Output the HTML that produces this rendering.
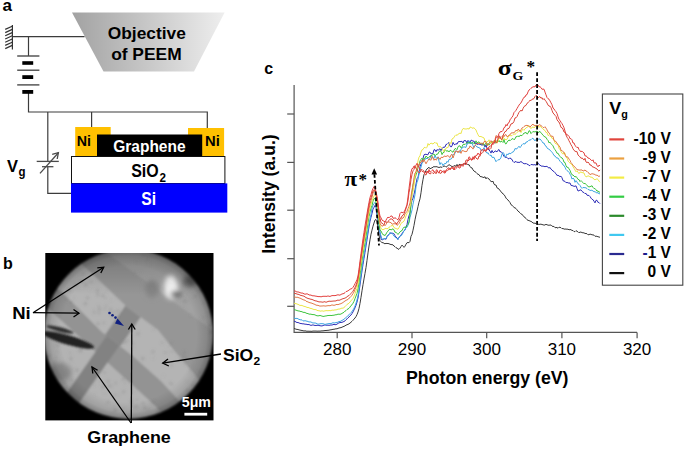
<!DOCTYPE html>
<html><head><meta charset="utf-8"><style>
html,body{margin:0;padding:0;background:#fff;width:685px;height:449px;overflow:hidden}
svg{display:block}
</style></head><body>
<svg width="685" height="449" viewBox="0 0 685 449">
<text x="2.6" y="11" font-family="Liberation Sans, sans-serif" font-size="17" font-weight="bold" fill="#000" text-anchor="start" >a</text>
<g stroke="#333" stroke-width="1.2" fill="none">
<line x1="12.4" y1="25" x2="12.4" y2="49.5"/>
<line x1="5.2" y1="29.4" x2="12.2" y2="26.2"/>
<line x1="5.2" y1="32.6" x2="12.2" y2="29.4"/>
<line x1="5.2" y1="35.8" x2="12.2" y2="32.6"/>
<line x1="5.2" y1="39.0" x2="12.2" y2="35.8"/>
<line x1="5.2" y1="42.2" x2="12.2" y2="39.0"/>
<line x1="5.2" y1="45.4" x2="12.2" y2="42.2"/>
<line x1="5.2" y1="48.6" x2="12.2" y2="45.4"/>
</g>
<g stroke="#3c3c3c" stroke-width="1.2" fill="none">
<polyline points="12.4,36.6 84.6,36.6"/>
<polyline points="28.5,36.6 28.5,56"/>
<polyline points="28.5,93 28.5,112 207.3,112 207.3,128"/>
<polyline points="91.6,112 91.6,127"/>
<polyline points="47.8,112 47.8,161.4"/>
<polyline points="47.8,166.7 47.8,193.4 71,193.4"/>
</g>
<g stroke="#4a4a4a" stroke-width="1.4">
<line x1="17.2" y1="56" x2="39.4" y2="56"/>
<line x1="17.2" y1="70.2" x2="39.4" y2="70.2"/>
<line x1="17.2" y1="84.9" x2="39.4" y2="84.9"/>
</g>
<rect x="22.3" y="61.2" width="10.9" height="3.6" fill="#000"/>
<rect x="22.3" y="75.2" width="10.9" height="3.8" fill="#000"/>
<rect x="22.3" y="90" width="10.9" height="3.8" fill="#000"/>
<g stroke="#4a4a4a" stroke-width="1.3" fill="none">
<line x1="36.7" y1="161.4" x2="58.8" y2="161.4"/>
<line x1="42" y1="166.7" x2="53.4" y2="166.7"/>
<line x1="40" y1="173.4" x2="58.4" y2="152.7"/>
<polyline points="52.2,154.3 58.4,152.7 57.2,159"/>
</g>
<text x="7" y="172" font-family="Liberation Sans, sans-serif" font-size="17" font-weight="bold" fill="#000" text-anchor="start" textLength="11" lengthAdjust="spacingAndGlyphs" >V</text>
<text x="18.5" y="175.5" font-family="Liberation Sans, sans-serif" font-size="12.5" font-weight="bold" fill="#000" text-anchor="start" textLength="7" lengthAdjust="spacingAndGlyphs" >g</text>
<defs><linearGradient id="tg" x1="0" y1="0" x2="1" y2="0"><stop offset="0" stop-color="#a2a2a2"/><stop offset="1" stop-color="#eeeeee"/></linearGradient></defs>
<polygon points="72,12.4 224.6,12.4 194,71.5 103.5,71.5" fill="url(#tg)"/>
<text x="146.8" y="38.5" font-family="Liberation Sans, sans-serif" font-size="17" font-weight="bold" fill="#000" text-anchor="middle" textLength="78" lengthAdjust="spacingAndGlyphs" >Objective</text>
<text x="146.4" y="59.6" font-family="Liberation Sans, sans-serif" font-size="17" font-weight="bold" fill="#000" text-anchor="middle" textLength="70.5" lengthAdjust="spacingAndGlyphs" >of PEEM</text>
<rect x="75.2" y="127" width="35.5" height="29" fill="#FFC000"/>
<rect x="188" y="128" width="36.1" height="28" fill="#FFC000"/>
<rect x="97" y="134.5" width="105.2" height="21.5" fill="#000"/>
<rect x="71.5" y="156.5" width="153.4" height="27" fill="#fff" stroke="#111" stroke-width="1"/>
<rect x="71" y="183.4" width="156.3" height="29.2" fill="#0000FF"/>
<text x="76.8" y="145.5" font-family="Liberation Sans, sans-serif" font-size="15.5" font-weight="bold" fill="#000" text-anchor="start" textLength="14.2" lengthAdjust="spacingAndGlyphs" >Ni</text>
<text x="205" y="145.5" font-family="Liberation Sans, sans-serif" font-size="15.5" font-weight="bold" fill="#000" text-anchor="start" textLength="14.8" lengthAdjust="spacingAndGlyphs" >Ni</text>
<text x="113.2" y="151.5" font-family="Liberation Sans, sans-serif" font-size="16" font-weight="bold" fill="#fff" text-anchor="start" textLength="72.4" lengthAdjust="spacingAndGlyphs" >Graphene</text>
<text x="131.2" y="177.2" font-family="Liberation Sans, sans-serif" font-size="18" font-weight="bold" fill="#000" text-anchor="start" textLength="27.5" lengthAdjust="spacingAndGlyphs" >SiO</text>
<text x="159.5" y="182" font-family="Liberation Sans, sans-serif" font-size="12" font-weight="bold" fill="#000" text-anchor="start" textLength="6.5" lengthAdjust="spacingAndGlyphs" >2</text>
<text x="141.2" y="205.3" font-family="Liberation Sans, sans-serif" font-size="18.5" font-weight="bold" fill="#fff" text-anchor="start" textLength="14.8" lengthAdjust="spacingAndGlyphs" >Si</text>
<text x="2.9" y="269" font-family="Liberation Sans, sans-serif" font-size="16" font-weight="bold" fill="#000" text-anchor="start" >b</text>
<rect x="45.3" y="253" width="168.2" height="167.4" fill="#000"/>
<defs>
<mask id="cc" maskUnits="userSpaceOnUse" x="30" y="230" width="200" height="210"><ellipse cx="128.5" cy="334" rx="84.7" ry="85.0" fill="#fff" filter="url(#bl1)"/></mask>
<clipPath id="sq"><rect x="45.3" y="253" width="168.2" height="167.4"/></clipPath>
<radialGradient id="vig" gradientUnits="userSpaceOnUse" cx="128.5" cy="334" r="85"><stop offset="0.8" stop-color="#000" stop-opacity="0"/><stop offset="0.92" stop-color="#000" stop-opacity="0.1"/><stop offset="0.98" stop-color="#000" stop-opacity="0.25"/><stop offset="1" stop-color="#000" stop-opacity="0.35"/></radialGradient>
<linearGradient id="topd" x1="0" y1="0" x2="0" y2="1"><stop offset="0.1" stop-color="#000" stop-opacity="0.22"/><stop offset="1" stop-color="#000" stop-opacity="0"/></linearGradient>
<filter id="bl" x="-10%" y="-10%" width="120%" height="120%"><feGaussianBlur stdDeviation="1.0"/></filter>
<filter id="bl3" x="-50%" y="-50%" width="200%" height="200%"><feGaussianBlur stdDeviation="2.5"/></filter>
<filter id="bl1" x="-50%" y="-50%" width="200%" height="200%"><feGaussianBlur stdDeviation="1"/></filter>
<filter id="bl2" x="-50%" y="-50%" width="200%" height="200%"><feGaussianBlur stdDeviation="1.5"/></filter>
</defs>
<g clip-path="url(#sq)"><g mask="url(#cc)"><rect x="40" y="245" width="180" height="180" fill="#a2a2a2"/>
<defs>
<clipPath id="cL1"><polygon points="240.0,440.0 195.5,375.2 175.2,351.8 158.1,330.0 127.3,307.3 91.8,273.6 50.0,236.0 20.0,258.0 65.6,296.0 101.1,331.6 133.1,356.5 161.2,381.5 215.0,440.0" fill="#000" /></clipPath>
<clipPath id="cLow"><polygon points="215.0,440.0 161.2,381.5 133.1,356.5 101.1,331.6 65.6,296.0 20.0,258.0 0.0,300.0 0.0,460.0 260.0,460.0" fill="#000" /></clipPath>
</defs>
<g filter="url(#bl)">
<polygon points="70.0,226.0 121.7,263.7 148.5,283.3 175.0,302.9 230.0,343.0 240.0,440.0 195.5,375.2 175.2,351.8 158.1,330.0 127.3,307.3 91.8,273.6 50.0,236.0" fill="#969696" />
<polygon points="240.0,440.0 195.5,375.2 175.2,351.8 158.1,330.0 127.3,307.3 91.8,273.6 50.0,236.0 20.0,258.0 65.6,296.0 101.1,331.6 133.1,356.5 161.2,381.5 215.0,440.0" fill="#b4b4b4" />
<polygon points="215.0,440.0 161.2,381.5 133.1,356.5 101.1,331.6 65.6,296.0 20.0,258.0 20.0,283.0 101.4,357.0 155.4,406.0 190.0,450.0" fill="#939393" />
<polygon points="190.0,450.0 155.4,406.0 101.4,357.0 20.0,283.0 0.0,300.0 0.0,460.0 260.0,460.0" fill="#b3b3b3" />
<g clip-path="url(#cL1)"><polygon points="159.1,257.5 173.9,269.5 81.9,400.9 67.1,388.9" fill="#888888" opacity="1"/></g>
<g clip-path="url(#cLow)"><polygon points="114.6,324.4 127.1,334.5 46.6,449.5 34.1,439.4" fill="#828282" opacity="1"/></g>
</g>
<g filter="url(#bl2)"><circle cx="149.9" cy="264.8" r="0.5" fill="#707070" opacity="0.45"/><circle cx="185.0" cy="296.8" r="0.7" fill="#707070" opacity="0.45"/><circle cx="211.3" cy="331.6" r="1.3" fill="#707070" opacity="0.45"/><circle cx="71.0" cy="358.8" r="1.3" fill="#707070" opacity="0.45"/><circle cx="171.9" cy="351.5" r="0.8" fill="#707070" opacity="0.45"/><circle cx="51.1" cy="396.8" r="0.9" fill="#707070" opacity="0.45"/><circle cx="111.6" cy="386.1" r="0.9" fill="#707070" opacity="0.45"/><circle cx="201.3" cy="399.0" r="0.6" fill="#707070" opacity="0.45"/><circle cx="68.6" cy="289.8" r="1.4" fill="#707070" opacity="0.45"/><circle cx="110.1" cy="311.9" r="1.0" fill="#707070" opacity="0.45"/><circle cx="143.0" cy="403.2" r="1.1" fill="#707070" opacity="0.45"/><circle cx="200.2" cy="395.3" r="1.4" fill="#707070" opacity="0.45"/><circle cx="164.5" cy="288.8" r="1.2" fill="#707070" opacity="0.45"/><circle cx="56.5" cy="394.9" r="1.4" fill="#707070" opacity="0.45"/><circle cx="60.7" cy="386.1" r="0.9" fill="#707070" opacity="0.45"/><circle cx="71.0" cy="302.5" r="1.2" fill="#707070" opacity="0.45"/><circle cx="190.9" cy="261.3" r="1.1" fill="#707070" opacity="0.45"/><circle cx="53.5" cy="372.5" r="0.8" fill="#707070" opacity="0.45"/><circle cx="129.9" cy="418.8" r="0.8" fill="#707070" opacity="0.45"/><circle cx="58.8" cy="353.0" r="0.5" fill="#707070" opacity="0.45"/><circle cx="53.0" cy="397.2" r="0.8" fill="#707070" opacity="0.45"/><circle cx="205.1" cy="401.9" r="0.8" fill="#707070" opacity="0.45"/><circle cx="152.9" cy="352.3" r="1.0" fill="#707070" opacity="0.45"/><circle cx="148.9" cy="409.2" r="1.0" fill="#707070" opacity="0.45"/><circle cx="85.4" cy="303.7" r="1.4" fill="#707070" opacity="0.45"/><circle cx="132.5" cy="344.5" r="0.5" fill="#707070" opacity="0.45"/><circle cx="49.3" cy="355.6" r="1.1" fill="#707070" opacity="0.45"/><circle cx="56.0" cy="357.5" r="0.9" fill="#707070" opacity="0.45"/><circle cx="163.4" cy="375.8" r="0.5" fill="#707070" opacity="0.45"/><circle cx="56.1" cy="365.5" r="1.4" fill="#707070" opacity="0.45"/><circle cx="106.4" cy="305.6" r="0.8" fill="#707070" opacity="0.45"/><circle cx="108.6" cy="381.4" r="0.5" fill="#707070" opacity="0.45"/><circle cx="97.5" cy="290.7" r="1.2" fill="#707070" opacity="0.45"/><circle cx="85.6" cy="284.9" r="0.9" fill="#707070" opacity="0.45"/><circle cx="99.4" cy="309.1" r="1.3" fill="#707070" opacity="0.45"/><circle cx="118.8" cy="395.2" r="0.7" fill="#707070" opacity="0.45"/><circle cx="83.4" cy="274.0" r="1.0" fill="#707070" opacity="0.45"/><circle cx="185.2" cy="284.3" r="0.8" fill="#707070" opacity="0.45"/><circle cx="180.0" cy="359.9" r="1.2" fill="#707070" opacity="0.45"/><circle cx="94.5" cy="385.0" r="0.7" fill="#707070" opacity="0.45"/><circle cx="103.5" cy="322.8" r="0.9" fill="#707070" opacity="0.45"/><circle cx="114.0" cy="405.9" r="0.6" fill="#707070" opacity="0.45"/><circle cx="46.8" cy="409.6" r="1.3" fill="#707070" opacity="0.45"/><circle cx="209.8" cy="325.7" r="1.4" fill="#707070" opacity="0.45"/><circle cx="199.9" cy="290.6" r="1.2" fill="#707070" opacity="0.45"/><circle cx="184.9" cy="363.4" r="1.0" fill="#707070" opacity="0.45"/><circle cx="94.0" cy="310.3" r="0.7" fill="#707070" opacity="0.45"/><circle cx="57.3" cy="351.1" r="0.8" fill="#707070" opacity="0.45"/><circle cx="180.5" cy="261.4" r="1.3" fill="#707070" opacity="0.45"/><circle cx="194.8" cy="402.4" r="1.0" fill="#707070" opacity="0.45"/><circle cx="48.2" cy="377.0" r="0.7" fill="#707070" opacity="0.45"/><circle cx="102.7" cy="295.7" r="1.3" fill="#707070" opacity="0.45"/><circle cx="125.2" cy="383.1" r="0.8" fill="#707070" opacity="0.45"/><circle cx="78.8" cy="342.2" r="1.2" fill="#707070" opacity="0.45"/><circle cx="199.0" cy="387.0" r="1.2" fill="#707070" opacity="0.45"/><circle cx="47.2" cy="357.7" r="1.3" fill="#707070" opacity="0.45"/><circle cx="55.1" cy="274.9" r="0.6" fill="#707070" opacity="0.45"/><circle cx="187.8" cy="268.2" r="1.0" fill="#707070" opacity="0.45"/><circle cx="98.4" cy="305.9" r="0.8" fill="#707070" opacity="0.45"/><circle cx="153.4" cy="350.8" r="0.8" fill="#707070" opacity="0.45"/><circle cx="77.7" cy="308.2" r="0.6" fill="#707070" opacity="0.45"/><circle cx="109.1" cy="386.2" r="1.1" fill="#707070" opacity="0.45"/><circle cx="117.6" cy="315.4" r="0.9" fill="#707070" opacity="0.45"/><circle cx="108.1" cy="402.1" r="1.2" fill="#707070" opacity="0.45"/><circle cx="66.4" cy="388.2" r="1.1" fill="#707070" opacity="0.45"/><circle cx="193.3" cy="384.8" r="1.1" fill="#707070" opacity="0.45"/><circle cx="167.8" cy="347.0" r="0.6" fill="#707070" opacity="0.45"/><circle cx="143.6" cy="254.8" r="0.6" fill="#707070" opacity="0.45"/><circle cx="61.2" cy="270.4" r="1.3" fill="#707070" opacity="0.45"/><circle cx="185.7" cy="274.0" r="1.3" fill="#707070" opacity="0.45"/><circle cx="86.2" cy="283.7" r="0.7" fill="#707070" opacity="0.45"/><circle cx="111.4" cy="314.6" r="0.9" fill="#707070" opacity="0.45"/><circle cx="104.1" cy="323.0" r="0.6" fill="#707070" opacity="0.45"/><circle cx="129.1" cy="414.6" r="0.9" fill="#707070" opacity="0.45"/><circle cx="170.1" cy="280.5" r="1.1" fill="#707070" opacity="0.45"/><circle cx="171.5" cy="365.2" r="1.0" fill="#707070" opacity="0.45"/><circle cx="195.0" cy="278.6" r="0.6" fill="#707070" opacity="0.45"/><circle cx="165.3" cy="284.7" r="0.7" fill="#707070" opacity="0.45"/><circle cx="79.1" cy="350.6" r="0.8" fill="#707070" opacity="0.45"/><circle cx="204.3" cy="302.8" r="1.1" fill="#707070" opacity="0.45"/><circle cx="114.6" cy="394.9" r="1.0" fill="#707070" opacity="0.45"/><circle cx="90.4" cy="289.9" r="0.5" fill="#707070" opacity="0.45"/><circle cx="99.5" cy="381.7" r="0.6" fill="#707070" opacity="0.45"/><circle cx="210.5" cy="333.1" r="1.0" fill="#707070" opacity="0.45"/><circle cx="123.7" cy="391.7" r="1.2" fill="#707070" opacity="0.45"/><circle cx="138.5" cy="333.4" r="1.1" fill="#707070" opacity="0.45"/><circle cx="158.1" cy="412.2" r="1.3" fill="#707070" opacity="0.45"/><circle cx="86.2" cy="285.3" r="0.7" fill="#707070" opacity="0.45"/><circle cx="77.1" cy="370.3" r="1.3" fill="#707070" opacity="0.45"/><circle cx="195.4" cy="296.1" r="1.3" fill="#707070" opacity="0.45"/><circle cx="98.0" cy="323.8" r="1.2" fill="#707070" opacity="0.45"/><circle cx="60.3" cy="269.3" r="1.3" fill="#707070" opacity="0.45"/><circle cx="94.4" cy="312.8" r="1.0" fill="#707070" opacity="0.45"/><circle cx="158.1" cy="255.1" r="0.8" fill="#707070" opacity="0.45"/><circle cx="80.9" cy="350.5" r="1.4" fill="#707070" opacity="0.45"/><circle cx="65.8" cy="299.3" r="1.1" fill="#707070" opacity="0.45"/><circle cx="196.9" cy="270.0" r="1.3" fill="#707070" opacity="0.45"/><circle cx="108.1" cy="381.4" r="1.2" fill="#707070" opacity="0.45"/><circle cx="135.0" cy="272.7" r="0.9" fill="#707070" opacity="0.45"/><circle cx="104.5" cy="372.5" r="1.1" fill="#707070" opacity="0.45"/><circle cx="153.2" cy="358.1" r="0.7" fill="#707070" opacity="0.45"/><circle cx="193.7" cy="362.1" r="0.6" fill="#707070" opacity="0.45"/><circle cx="200.7" cy="277.3" r="0.8" fill="#707070" opacity="0.45"/><circle cx="165.6" cy="352.6" r="1.0" fill="#707070" opacity="0.45"/><circle cx="153.5" cy="329.5" r="0.8" fill="#707070" opacity="0.45"/><circle cx="75.3" cy="265.3" r="1.1" fill="#707070" opacity="0.45"/><circle cx="171.2" cy="343.6" r="1.2" fill="#707070" opacity="0.45"/><circle cx="105.6" cy="297.9" r="0.8" fill="#707070" opacity="0.45"/><circle cx="190.8" cy="260.9" r="1.0" fill="#707070" opacity="0.45"/><circle cx="104.8" cy="308.9" r="0.9" fill="#707070" opacity="0.45"/><circle cx="104.6" cy="393.7" r="0.6" fill="#707070" opacity="0.45"/><circle cx="64.7" cy="382.5" r="1.2" fill="#707070" opacity="0.45"/><circle cx="76.7" cy="285.2" r="0.9" fill="#707070" opacity="0.45"/><circle cx="170.3" cy="351.7" r="0.6" fill="#707070" opacity="0.45"/><circle cx="133.6" cy="347.8" r="0.7" fill="#707070" opacity="0.45"/><circle cx="51.0" cy="386.5" r="1.3" fill="#707070" opacity="0.45"/><circle cx="203.6" cy="317.2" r="1.0" fill="#707070" opacity="0.45"/><circle cx="142.8" cy="358.6" r="1.4" fill="#707070" opacity="0.45"/><circle cx="46.4" cy="381.1" r="1.1" fill="#707070" opacity="0.45"/><circle cx="127.7" cy="340.4" r="0.9" fill="#707070" opacity="0.45"/><circle cx="78.1" cy="341.4" r="0.5" fill="#707070" opacity="0.45"/><circle cx="205.2" cy="401.2" r="0.6" fill="#707070" opacity="0.45"/><circle cx="177.5" cy="356.8" r="0.5" fill="#707070" opacity="0.45"/><circle cx="105.7" cy="292.5" r="0.6" fill="#707070" opacity="0.45"/><circle cx="135.5" cy="407.4" r="0.8" fill="#707070" opacity="0.45"/><circle cx="190.5" cy="368.6" r="0.6" fill="#707070" opacity="0.45"/><circle cx="199.9" cy="372.1" r="1.2" fill="#707070" opacity="0.45"/><circle cx="103.0" cy="387.1" r="1.3" fill="#707070" opacity="0.45"/><circle cx="64.1" cy="261.0" r="0.6" fill="#707070" opacity="0.45"/><circle cx="79.3" cy="280.5" r="0.9" fill="#707070" opacity="0.45"/><circle cx="162.1" cy="342.7" r="0.9" fill="#707070" opacity="0.45"/><circle cx="123.1" cy="378.9" r="0.9" fill="#707070" opacity="0.45"/><circle cx="176.0" cy="277.7" r="0.9" fill="#707070" opacity="0.45"/><circle cx="78.4" cy="288.5" r="0.7" fill="#707070" opacity="0.45"/><circle cx="50.6" cy="272.2" r="0.7" fill="#707070" opacity="0.45"/><circle cx="127.4" cy="263.9" r="0.5" fill="#707070" opacity="0.45"/><circle cx="112.9" cy="319.4" r="0.5" fill="#707070" opacity="0.45"/><circle cx="206.3" cy="290.1" r="0.6" fill="#707070" opacity="0.45"/><circle cx="66.6" cy="262.6" r="1.2" fill="#707070" opacity="0.45"/><circle cx="123.3" cy="407.9" r="0.8" fill="#707070" opacity="0.45"/><circle cx="87.5" cy="297.9" r="1.2" fill="#707070" opacity="0.45"/><circle cx="61.6" cy="366.6" r="1.4" fill="#707070" opacity="0.45"/><circle cx="144.3" cy="254.6" r="0.5" fill="#707070" opacity="0.45"/><circle cx="61.0" cy="282.1" r="0.5" fill="#707070" opacity="0.45"/><circle cx="55.0" cy="362.0" r="1.3" fill="#707070" opacity="0.45"/><circle cx="79.3" cy="414.7" r="0.9" fill="#707070" opacity="0.45"/><circle cx="202.1" cy="259.6" r="0.8" fill="#707070" opacity="0.45"/><circle cx="146.8" cy="410.2" r="0.6" fill="#707070" opacity="0.45"/><circle cx="94.7" cy="394.2" r="0.6" fill="#707070" opacity="0.45"/><circle cx="110.7" cy="309.1" r="1.1" fill="#707070" opacity="0.45"/><circle cx="200.1" cy="282.8" r="1.2" fill="#707070" opacity="0.45"/><circle cx="137.9" cy="406.4" r="0.8" fill="#707070" opacity="0.45"/><circle cx="90.7" cy="282.0" r="1.1" fill="#707070" opacity="0.45"/><circle cx="71.5" cy="371.3" r="0.5" fill="#707070" opacity="0.45"/><circle cx="123.5" cy="379.1" r="1.1" fill="#707070" opacity="0.45"/><circle cx="62.1" cy="293.1" r="1.3" fill="#707070" opacity="0.45"/><circle cx="194.9" cy="374.9" r="0.8" fill="#707070" opacity="0.45"/><circle cx="112.3" cy="411.7" r="0.6" fill="#707070" opacity="0.45"/><circle cx="140.4" cy="272.2" r="0.6" fill="#707070" opacity="0.45"/><circle cx="54.1" cy="279.2" r="1.1" fill="#707070" opacity="0.45"/><circle cx="143.2" cy="255.9" r="0.7" fill="#707070" opacity="0.45"/><circle cx="206.6" cy="290.3" r="1.0" fill="#707070" opacity="0.45"/><circle cx="115.7" cy="382.9" r="1.0" fill="#707070" opacity="0.45"/><circle cx="77.2" cy="283.3" r="0.6" fill="#707070" opacity="0.45"/><circle cx="183.0" cy="272.6" r="0.5" fill="#707070" opacity="0.45"/><circle cx="206.4" cy="286.9" r="1.3" fill="#707070" opacity="0.45"/><circle cx="60.2" cy="330.8" r="0.7" fill="#707070" opacity="0.45"/><circle cx="183.7" cy="355.5" r="1.1" fill="#707070" opacity="0.45"/><circle cx="184.7" cy="352.1" r="1.2" fill="#707070" opacity="0.45"/><circle cx="80.2" cy="343.0" r="0.9" fill="#707070" opacity="0.45"/><circle cx="57.9" cy="345.2" r="1.2" fill="#707070" opacity="0.45"/><circle cx="104.2" cy="418.3" r="0.8" fill="#707070" opacity="0.45"/><circle cx="82.2" cy="281.3" r="1.3" fill="#707070" opacity="0.45"/><circle cx="115.5" cy="410.4" r="1.3" fill="#707070" opacity="0.45"/><circle cx="211.6" cy="405.9" r="0.8" fill="#707070" opacity="0.45"/><circle cx="201.1" cy="284.5" r="0.6" fill="#707070" opacity="0.45"/><circle cx="52.7" cy="377.0" r="0.7" fill="#707070" opacity="0.45"/><circle cx="117.8" cy="310.9" r="1.2" fill="#707070" opacity="0.45"/><circle cx="71.4" cy="379.9" r="1.1" fill="#707070" opacity="0.45"/><circle cx="191.4" cy="315.5" r="0.6" fill="#707070" opacity="0.45"/><circle cx="133.3" cy="343.4" r="0.8" fill="#707070" opacity="0.45"/><circle cx="187.5" cy="301.1" r="0.9" fill="#707070" opacity="0.45"/><circle cx="193.2" cy="387.2" r="0.8" fill="#707070" opacity="0.45"/><circle cx="47.7" cy="275.7" r="1.0" fill="#707070" opacity="0.45"/><circle cx="54.3" cy="287.6" r="1.2" fill="#707070" opacity="0.45"/><circle cx="123.3" cy="415.6" r="1.2" fill="#707070" opacity="0.45"/><circle cx="208.6" cy="259.8" r="0.7" fill="#707070" opacity="0.45"/><circle cx="48.2" cy="325.3" r="0.8" fill="#707070" opacity="0.45"/><circle cx="54.5" cy="344.1" r="0.6" fill="#707070" opacity="0.45"/><circle cx="97.7" cy="294.8" r="1.2" fill="#707070" opacity="0.45"/><circle cx="115.4" cy="297.0" r="0.5" fill="#707070" opacity="0.45"/><circle cx="180.2" cy="294.8" r="0.6" fill="#707070" opacity="0.45"/><circle cx="171.9" cy="384.3" r="1.0" fill="#707070" opacity="0.45"/><circle cx="92.4" cy="281.8" r="0.5" fill="#707070" opacity="0.45"/><circle cx="152.8" cy="402.0" r="1.3" fill="#707070" opacity="0.45"/><circle cx="200.2" cy="388.3" r="1.0" fill="#707070" opacity="0.45"/><circle cx="74.4" cy="284.2" r="1.1" fill="#707070" opacity="0.45"/><circle cx="113.8" cy="312.1" r="0.9" fill="#707070" opacity="0.45"/><circle cx="205.2" cy="279.6" r="0.8" fill="#707070" opacity="0.45"/><circle cx="187.3" cy="390.6" r="1.3" fill="#707070" opacity="0.45"/><circle cx="147.7" cy="259.0" r="1.0" fill="#707070" opacity="0.45"/><circle cx="137.3" cy="334.5" r="0.8" fill="#707070" opacity="0.45"/><circle cx="63.0" cy="364.3" r="0.8" fill="#707070" opacity="0.45"/><circle cx="131.5" cy="401.8" r="1.4" fill="#707070" opacity="0.45"/><circle cx="198.8" cy="283.9" r="0.8" fill="#707070" opacity="0.45"/><circle cx="183.5" cy="306.2" r="0.7" fill="#707070" opacity="0.45"/><circle cx="203.7" cy="409.7" r="0.8" fill="#707070" opacity="0.45"/><circle cx="111.2" cy="300.5" r="0.6" fill="#707070" opacity="0.45"/><circle cx="87.5" cy="415.7" r="0.6" fill="#707070" opacity="0.45"/><circle cx="84.1" cy="287.0" r="0.6" fill="#707070" opacity="0.45"/><circle cx="185.2" cy="358.1" r="1.2" fill="#707070" opacity="0.45"/><circle cx="205.6" cy="265.4" r="0.7" fill="#707070" opacity="0.45"/><circle cx="136.7" cy="261.8" r="0.7" fill="#707070" opacity="0.45"/><circle cx="205.0" cy="277.8" r="1.3" fill="#707070" opacity="0.45"/><circle cx="75.5" cy="417.8" r="1.1" fill="#707070" opacity="0.45"/><circle cx="55.1" cy="379.3" r="0.7" fill="#707070" opacity="0.45"/><circle cx="191.2" cy="262.1" r="1.4" fill="#707070" opacity="0.45"/><circle cx="209.9" cy="300.3" r="0.6" fill="#707070" opacity="0.45"/><circle cx="70.1" cy="274.9" r="0.8" fill="#707070" opacity="0.45"/><circle cx="197.9" cy="266.7" r="0.7" fill="#707070" opacity="0.45"/><circle cx="208.7" cy="294.6" r="0.8" fill="#707070" opacity="0.45"/><circle cx="170.2" cy="383.0" r="1.0" fill="#707070" opacity="0.45"/><circle cx="123.0" cy="342.8" r="0.9" fill="#707070" opacity="0.45"/><circle cx="134.7" cy="391.4" r="0.7" fill="#707070" opacity="0.45"/><circle cx="144.7" cy="407.9" r="1.3" fill="#707070" opacity="0.45"/><circle cx="75.8" cy="413.0" r="1.3" fill="#707070" opacity="0.45"/><circle cx="73.9" cy="297.9" r="0.7" fill="#707070" opacity="0.45"/><circle cx="113.9" cy="398.0" r="0.6" fill="#707070" opacity="0.45"/><circle cx="48.3" cy="397.5" r="1.2" fill="#707070" opacity="0.45"/><circle cx="61.4" cy="343.2" r="0.9" fill="#707070" opacity="0.45"/><circle cx="70.3" cy="353.1" r="0.8" fill="#707070" opacity="0.45"/><circle cx="98.8" cy="313.1" r="1.0" fill="#707070" opacity="0.45"/><circle cx="208.8" cy="408.5" r="1.3" fill="#707070" opacity="0.45"/><circle cx="184.6" cy="301.3" r="1.4" fill="#707070" opacity="0.45"/><circle cx="92.9" cy="413.5" r="0.9" fill="#707070" opacity="0.45"/><circle cx="125.3" cy="341.7" r="1.3" fill="#707070" opacity="0.45"/><circle cx="186.7" cy="382.3" r="0.6" fill="#707070" opacity="0.45"/><circle cx="208.9" cy="314.5" r="0.7" fill="#707070" opacity="0.45"/><circle cx="137.1" cy="399.8" r="0.9" fill="#707070" opacity="0.45"/><circle cx="190.0" cy="371.4" r="0.8" fill="#707070" opacity="0.45"/><circle cx="112.2" cy="315.5" r="1.1" fill="#707070" opacity="0.45"/><circle cx="70.3" cy="290.3" r="0.8" fill="#707070" opacity="0.45"/><circle cx="135.4" cy="406.0" r="1.0" fill="#707070" opacity="0.45"/></g>
<g filter="url(#bl3)">
<ellipse cx="152" cy="289" rx="7" ry="9" fill="#858585"/>
<ellipse cx="171" cy="287" rx="7" ry="12" fill="#f6f6f6"/>
<ellipse cx="176" cy="294" rx="6" ry="3" fill="#5e5e5e"/>
<ellipse cx="190" cy="281" rx="7" ry="6" fill="#626262"/>
<ellipse cx="60" cy="372" rx="12" ry="9" fill="#8e8e8e"/>
</g>
<g filter="url(#bl1)">
<ellipse cx="60" cy="329.5" rx="14" ry="2.2" transform="rotate(14 60 329.5)" fill="#303030"/>
<ellipse cx="68" cy="340" rx="27" ry="4.6" transform="rotate(16 68 340)" fill="#202020"/>
</g>
<rect x="40" y="245" width="180" height="180" fill="url(#vig)"/>
<rect x="40" y="245" width="180" height="50" fill="url(#topd)"/>
</g></g>
<circle cx="109.5" cy="313" r="1.3" fill="#102080"/>
<circle cx="112.5" cy="315.3" r="1.3" fill="#102080"/>
<circle cx="115.5" cy="317.6" r="1.3" fill="#102080"/>
<polygon points="117.5,318.5 124,326 115,323.5" fill="#102080"/>
<text x="12.2" y="319.4" font-family="Liberation Sans, sans-serif" font-size="16" font-weight="bold" fill="#000" text-anchor="start" textLength="18.5" lengthAdjust="spacingAndGlyphs" >Ni</text>
<g stroke="#000" stroke-width="1.3" fill="none">
<line x1="33" y1="312.7" x2="103.7" y2="267.2"/>
<polyline points="97.3,267.8 103.7,267.2 100.8,273"/>
<line x1="33" y1="312.7" x2="79" y2="313.2"/>
<polyline points="73.5,309.5 79,313.2 73.5,317"/>
<line x1="221" y1="354" x2="162.7" y2="363.2"/>
<polyline points="168,359 162.7,363.2 168.8,366"/>
<line x1="131" y1="423" x2="92" y2="367"/>
<polyline points="92.8,373.5 92,367 97.6,370.2"/>
<line x1="131.3" y1="423" x2="131.8" y2="324"/>
<polyline points="128.4,329.5 131.8,324 135.2,329.5"/>
</g>
<text x="223.0" y="360.8" font-family="Liberation Sans, sans-serif" font-size="16.5" font-weight="bold" fill="#000" text-anchor="start" textLength="30.3" lengthAdjust="spacingAndGlyphs" >SiO</text>
<text x="253.6" y="364.5" font-family="Liberation Sans, sans-serif" font-size="11" font-weight="bold" fill="#000" text-anchor="start" textLength="6.7" lengthAdjust="spacingAndGlyphs" >2</text>
<text x="87.3" y="442.5" font-family="Liberation Sans, sans-serif" font-size="16" font-weight="bold" fill="#000" text-anchor="start" textLength="83.5" lengthAdjust="spacingAndGlyphs" >Graphene</text>
<text x="181.8" y="407" font-family="Liberation Sans, sans-serif" font-size="14" font-weight="bold" fill="#fff" text-anchor="start" textLength="29.2" lengthAdjust="spacingAndGlyphs" >5μm</text>
<rect x="184.4" y="412.8" width="22.8" height="2.8" fill="#fff"/>
<text x="264.3" y="73.8" font-family="Liberation Sans, sans-serif" font-size="16" font-weight="bold" fill="#000" text-anchor="start" >c</text>
<g stroke="#555" stroke-width="1.2" fill="none">
<polyline points="294.1,85 294.1,332.4 637.1,332.4"/>
<line x1="287.2" y1="114" x2="294.1" y2="114"/>
<line x1="287.2" y1="162.4" x2="294.1" y2="162.4"/>
<line x1="287.2" y1="210.2" x2="294.1" y2="210.2"/>
<line x1="287.2" y1="258.7" x2="294.1" y2="258.7"/>
<line x1="287.2" y1="306.3" x2="294.1" y2="306.3"/>
<line x1="337.2" y1="332.4" x2="337.2" y2="338.2"/>
<line x1="412" y1="332.4" x2="412" y2="338.2"/>
<line x1="486.7" y1="332.4" x2="486.7" y2="338.2"/>
<line x1="561.9" y1="332.4" x2="561.9" y2="338.2"/>
<line x1="637.1" y1="332.4" x2="637.1" y2="338.2"/>
</g>
<text x="337.2" y="355" font-family="Liberation Sans, sans-serif" font-size="17" font-weight="normal" fill="#000" text-anchor="middle" >280</text>
<text x="412" y="355" font-family="Liberation Sans, sans-serif" font-size="17" font-weight="normal" fill="#000" text-anchor="middle" >290</text>
<text x="486.7" y="355" font-family="Liberation Sans, sans-serif" font-size="17" font-weight="normal" fill="#000" text-anchor="middle" >300</text>
<text x="561.9" y="355" font-family="Liberation Sans, sans-serif" font-size="17" font-weight="normal" fill="#000" text-anchor="middle" >310</text>
<text x="637.1" y="355" font-family="Liberation Sans, sans-serif" font-size="17" font-weight="normal" fill="#000" text-anchor="middle" >320</text>
<text x="406" y="384.2" font-family="Liberation Sans, sans-serif" font-size="17.5" font-weight="bold" fill="#000" text-anchor="start" textLength="162.5" lengthAdjust="spacingAndGlyphs" >Photon energy (eV)</text>
<g transform="translate(274.5,253.3) rotate(-90)"><text x="-0.5" y="0" font-family="Liberation Sans, sans-serif" font-size="17.5" font-weight="bold" fill="#000" text-anchor="start" textLength="119.5" lengthAdjust="spacingAndGlyphs" >Intensity (a.u.)</text></g>
<polyline points="294,328.4 295,328.8 296,329.2 297,329.4 298,329.5 299,329.9 300,330.1 301,330.3 302,330.5 303,330.7 304,331.0 305,330.8 306,331.0 307,331.3 308,331.1 309,331.3 310,331.2 311,331.3 312,331.3 313,331.0 314,331.1 315,331.0 316,331.1 317,331.1 318,331.2 319,331.0 320,331.2 321,330.9 322,330.9 323,330.8 324,330.7 325,330.5 326,330.5 327,330.4 328,330.3 329,330.2 330,329.9 331,329.8 332,329.6 333,329.3 334,329.3 335,329.0 336,328.8 337,328.8 338,328.4 339,328.0 340,327.8 341,327.6 342,327.2 343,326.7 344,326.4 345,325.8 346,325.2 347,324.7 348,324.4 349,323.8 350,323.1 351,322.2 352,321.3 353,320.3 354,319.1 355,318.0 356,316.6 357,314.6 358,312.0 359,308.4 360,303.4 361,297.3 362,290.8 363,284.7 364,278.9 365,273.4 366,267.5 367,260.4 368,252.9 369,246.0 370,239.9 371,234.2 372,230.1 373,226.2 374,223.0 375,220.0 376,219.5 377,220.8 378,228.1 379,235.0 380,240.6 381,241.7 382,242.8 383,242.5 384,243.4 385,243.8 386,243.3 387,243.6 388,243.4 389,243.8 390,244.2 391,244.6 392,244.6 393,244.9 394,246.1 395,246.7 396,247.7 397,248.0 398,249.2 399,249.2 400,248.2 401,246.6 402,245.1 403,246.1 404,247.4 405,246.2 406,244.2 407,242.7 408,242.5 409,242.7 410,241.4 411,236.3 412,234.3 413,230.2 414,225.4 415,219.8 416,214.9 417,211.1 418,206.6 419,202.2 420,198.8 421,192.8 422,185.3 423,179.5 424,174.6 425,172.7 426,170.3 427,168.9 428,168.1 429,167.2 430,168.8 431,168.2 432,167.9 433,167.1 434,166.5 435,167.0 436,166.5 437,166.9 438,167.1 439,167.6 440,167.1 441,166.9 442,167.5 443,166.5 444,166.0 445,166.2 446,167.2 447,166.4 448,165.6 449,164.7 450,165.1 451,166.1 452,166.4 453,166.8 454,165.5 455,166.0 456,166.1 457,164.4 458,166.4 459,164.6 460,164.3 461,165.2 462,164.8 463,164.8 464,164.1 465,163.7 466,163.5 467,163.7 468,164.9 469,164.6 470,166.4 471,167.8 472,167.8 473,169.9 474,171.1 475,171.6 476,172.3 477,173.6 478,174.3 479,174.6 480,176.4 481,176.7 482,176.8 483,177.4 484,177.5 485,176.7 486,178.9 487,177.5 488,178.6 489,178.8 490,180.5 491,181.4 492,181.8 493,181.2 494,184.2 495,185.0 496,185.0 497,187.9 498,188.3 499,189.0 500,190.7 501,191.4 502,193.0 503,193.8 504,194.6 505,196.1 506,198.1 507,199.2 508,200.0 509,201.2 510,202.5 511,204.7 512,205.2 513,206.2 514,207.6 515,207.8 516,208.5 517,209.8 518,211.1 519,211.9 520,212.8 521,213.9 522,214.5 523,215.3 524,216.9 525,217.5 526,218.4 527,219.7 528,220.4 529,220.5 530,221.1 531,221.4 532,222.0 533,223.0 534,223.2 535,223.2 536,223.5 537,224.6 538,224.2 539,224.4 540,224.3 541,224.1 542,224.6 543,224.7 544,225.2 545,224.9 546,224.3 547,224.8 548,225.1 549,225.3 550,225.0 551,225.1 552,226.1 553,226.5 554,226.4 555,227.7 556,227.6 557,227.4 558,228.3 559,227.2 560,227.4 561,227.7 562,228.7 563,228.4 564,229.1 565,229.1 566,229.0 567,229.3 568,229.1 569,229.9 570,229.5 571,229.7 572,230.5 573,230.5 574,231.6 575,231.6 576,230.6 577,231.4 578,231.8 579,232.8 580,232.1 581,232.1 582,232.6 583,232.8 584,232.8 585,233.5 586,233.5 587,233.7 588,234.8 589,234.6 590,234.2 591,234.3 592,234.9 593,234.8 594,235.2 595,236.3 596,236.2 597,236.3 598,236.8 599,236.9 600,237.4" fill="none" stroke="#3a3a3a" stroke-width="1.0" stroke-linejoin="round"/>
<polyline points="294,321.3 295,321.3 296,322.1 297,322.5 298,322.5 299,322.9 300,323.4 301,323.5 302,323.7 303,323.9 304,323.8 305,324.3 306,324.1 307,324.5 308,324.6 309,324.5 310,325.0 311,325.4 312,325.1 313,324.9 314,325.2 315,325.5 316,325.4 317,325.4 318,325.2 319,325.5 320,325.7 321,325.9 322,325.9 323,325.6 324,325.1 325,325.0 326,325.1 327,325.3 328,325.1 329,325.4 330,325.1 331,325.0 332,325.0 333,324.7 334,324.3 335,324.8 336,324.5 337,324.2 338,323.4 339,322.8 340,322.6 341,322.4 342,322.4 343,321.9 344,321.5 345,320.9 346,319.8 347,318.9 348,317.9 349,317.0 350,315.8 351,315.0 352,313.6 353,311.9 354,309.9 355,307.8 356,305.3 357,302.0 358,298.0 359,291.9 360,284.9 361,277.9 362,270.9 363,264.4 364,258.3 365,252.4 366,245.9 367,239.8 368,233.0 369,226.8 370,221.4 371,217.2 372,213.6 373,209.1 374,207.3 375,205.4 376,207.1 377,215.0 378,220.5 379,225.5 380,232.7 381,238.3 382,240.1 383,239.3 384,238.9 385,238.7 386,239.3 387,236.5 388,235.1 389,234.6 390,233.4 391,232.8 392,233.7 393,232.9 394,233.9 395,235.7 396,237.1 397,237.9 398,239.4 399,237.2 400,236.5 401,234.7 402,233.9 403,232.1 404,230.7 405,230.1 406,226.7 407,224.5 408,219.4 409,215.6 410,212.8 411,204.5 412,200.5 413,198.2 414,194.4 415,189.8 416,184.0 417,178.7 418,177.2 419,172.8 420,166.8 421,164.0 422,162.6 423,158.4 424,154.8 425,154.4 426,154.2 427,154.7 428,154.7 429,152.2 430,152.1 431,153.9 432,153.7 433,153.4 434,149.7 435,149.8 436,151.7 437,149.5 438,150.3 439,149.6 440,148.7 441,150.7 442,148.7 443,147.3 444,147.3 445,147.0 446,144.4 447,144.3 448,143.3 449,142.5 450,146.1 451,147.1 452,146.0 453,142.4 454,144.4 455,144.8 456,143.4 457,144.3 458,142.0 459,141.5 460,141.6 461,141.5 462,141.3 463,143.0 464,140.6 465,140.6 466,140.9 467,143.6 468,140.4 469,141.8 470,143.4 471,140.2 472,140.4 473,141.3 474,141.0 475,143.9 476,142.8 477,144.4 478,144.2 479,143.8 480,144.9 481,144.1 482,145.5 483,143.4 484,144.6 485,147.1 486,144.7 487,148.3 488,149.1 489,150.0 490,151.1 491,153.1 492,150.4 493,152.6 494,152.3 495,150.9 496,151.2 497,151.9 498,150.2 499,149.5 500,151.9 501,151.6 502,152.8 503,154.5 504,156.4 505,157.4 506,157.0 507,157.4 508,158.7 509,158.8 510,157.8 511,159.0 512,159.4 513,161.5 514,162.5 515,162.0 516,161.3 517,162.7 518,161.9 519,162.8 520,161.9 521,161.7 522,162.1 523,163.4 524,163.4 525,164.1 526,163.2 527,164.4 528,164.2 529,165.6 530,165.5 531,164.5 532,164.6 533,164.8 534,164.9 535,164.5 536,165.3 537,163.9 538,162.9 539,164.6 540,165.0 541,166.0 542,166.2 543,166.1 544,166.4 545,166.7 546,166.4 547,166.4 548,167.3 549,168.2 550,167.4 551,169.2 552,169.9 553,171.1 554,171.5 555,172.8 556,173.7 557,175.5 558,175.2 559,175.9 560,176.7 561,176.2 562,177.8 563,180.7 564,181.0 565,181.4 566,182.7 567,182.4 568,182.8 569,183.2 570,182.9 571,185.4 572,185.5 573,185.9 574,186.3 575,186.3 576,185.8 577,188.5 578,191.0 579,190.7 580,190.0 581,189.9 582,191.3 583,192.2 584,192.6 585,193.7 586,193.3 587,195.2 588,195.4 589,195.4 590,196.5 591,198.1 592,199.3 593,199.7 594,201.2 595,202.9 596,200.3 597,200.3 598,202.4 599,202.5 600,203.7" fill="none" stroke="#3030b8" stroke-width="1.0" stroke-linejoin="round"/>
<polyline points="294,317.7 295,318.4 296,318.5 297,318.3 298,318.8 299,319.4 300,319.6 301,320.0 302,319.8 303,320.8 304,321.0 305,320.6 306,321.0 307,321.2 308,321.5 309,322.0 310,321.9 311,322.0 312,322.6 313,323.0 314,322.9 315,323.1 316,323.1 317,323.8 318,324.2 319,324.0 320,323.9 321,323.5 322,323.8 323,323.6 324,324.1 325,324.4 326,324.2 327,323.9 328,323.8 329,323.5 330,323.6 331,323.5 332,323.2 333,322.6 334,323.0 335,322.9 336,322.5 337,322.4 338,322.2 339,321.4 340,321.6 341,321.0 342,320.3 343,320.0 344,319.1 345,318.4 346,317.5 347,316.6 348,315.7 349,314.8 350,313.7 351,312.5 352,311.7 353,310.0 354,308.2 355,306.1 356,303.2 357,299.9 358,295.8 359,289.7 360,282.2 361,275.1 362,268.0 363,261.3 364,254.8 365,249.1 366,242.7 367,236.5 368,230.2 369,224.1 370,219.0 371,214.3 372,208.2 373,205.4 374,203.7 375,202.3 376,203.9 377,211.5 378,219.3 379,227.2 380,232.7 381,236.1 382,239.1 383,239.4 384,238.4 385,238.7 386,238.6 387,236.7 388,235.3 389,234.6 390,232.4 391,233.5 392,232.9 393,234.6 394,236.2 395,237.0 396,237.6 397,238.7 398,239.5 399,237.2 400,236.0 401,235.7 402,234.8 403,232.7 404,230.7 405,229.8 406,227.6 407,227.3 408,225.1 409,222.6 410,217.4 411,213.9 412,209.9 413,204.1 414,199.5 415,194.7 416,186.7 417,182.3 418,179.6 419,174.2 420,170.8 421,167.0 422,163.4 423,161.5 424,160.6 425,159.0 426,158.9 427,158.1 428,158.5 429,160.1 430,158.2 431,155.0 432,155.9 433,158.5 434,158.3 435,155.4 436,157.8 437,158.3 438,156.8 439,161.4 440,164.6 441,162.6 442,163.6 443,165.6 444,164.0 445,163.5 446,163.6 447,161.3 448,162.3 449,159.4 450,159.3 451,159.0 452,158.2 453,154.4 454,154.4 455,153.5 456,150.5 457,151.6 458,151.7 459,151.7 460,152.4 461,149.4 462,148.0 463,147.3 464,146.8 465,147.1 466,147.4 467,143.9 468,143.8 469,140.9 470,141.8 471,144.0 472,142.4 473,145.7 474,147.5 475,145.4 476,145.7 477,147.1 478,147.1 479,147.9 480,148.0 481,150.3 482,150.3 483,149.7 484,147.6 485,149.9 486,152.0 487,153.3 488,152.6 489,154.6 490,155.6 491,155.0 492,157.3 493,157.4 494,157.3 495,159.6 496,161.7 497,160.6 498,159.6 499,160.0 500,159.2 501,157.4 502,154.0 503,152.4 504,153.8 505,157.1 506,156.1 507,153.9 508,154.9 509,153.1 510,153.6 511,153.6 512,152.2 513,152.1 514,151.2 515,148.5 516,148.9 517,148.8 518,147.3 519,146.2 520,147.7 521,146.3 522,144.7 523,143.7 524,143.8 525,144.0 526,142.1 527,142.0 528,141.2 529,140.2 530,140.0 531,139.7 532,138.6 533,138.2 534,139.9 535,140.7 536,139.8 537,138.5 538,139.1 539,139.1 540,139.0 541,140.1 542,141.5 543,143.1 544,143.0 545,145.4 546,146.0 547,147.9 548,148.8 549,149.2 550,150.1 551,151.2 552,152.2 553,153.7 554,155.5 555,155.9 556,157.5 557,158.0 558,158.0 559,159.7 560,161.2 561,162.4 562,162.9 563,165.1 564,165.4 565,167.2 566,169.5 567,170.6 568,171.2 569,172.2 570,174.2 571,175.9 572,179.1 573,178.0 574,178.9 575,182.3 576,180.6 577,182.0 578,183.8 579,184.3 580,185.4 581,187.2 582,188.4 583,187.4 584,187.7 585,187.6 586,187.9 587,188.5 588,189.5 589,189.6 590,190.5 591,190.3 592,190.2 593,191.1 594,191.6 595,191.8 596,192.3 597,193.2 598,192.4 599,194.0 600,193.5" fill="none" stroke="#3fa6e2" stroke-width="1.0" stroke-linejoin="round"/>
<polyline points="294,309.7 295,309.7 296,310.3 297,310.4 298,311.0 299,310.9 300,311.3 301,311.6 302,311.6 303,312.4 304,312.3 305,312.5 306,313.0 307,313.5 308,313.5 309,314.2 310,314.1 311,314.2 312,314.5 313,314.6 314,314.6 315,314.9 316,315.4 317,315.8 318,315.8 319,315.8 320,315.4 321,315.8 322,316.1 323,316.4 324,316.4 325,316.0 326,316.0 327,315.7 328,315.5 329,315.5 330,315.4 331,315.5 332,315.5 333,315.2 334,315.3 335,314.8 336,314.8 337,314.6 338,314.1 339,314.3 340,314.2 341,314.1 342,313.3 343,312.9 344,312.2 345,311.1 346,310.6 347,309.5 348,309.0 349,308.3 350,307.1 351,305.5 352,304.8 353,303.2 354,301.3 355,298.6 356,296.0 357,293.4 358,289.0 359,282.5 360,274.9 361,268.1 362,260.7 363,254.3 364,248.1 365,242.6 366,236.3 367,229.6 368,222.9 369,216.7 370,211.9 371,208.1 372,205.6 373,201.1 374,198.6 375,198.4 376,202.4 377,207.4 378,214.2 379,224.1 380,229.9 381,231.0 382,233.1 383,234.8 384,234.8 385,235.7 386,234.0 387,232.2 388,231.1 389,229.6 390,229.2 391,229.9 392,229.5 393,228.7 394,230.0 395,232.3 396,232.2 397,233.3 398,234.5 399,233.1 400,232.0 401,230.9 402,230.7 403,228.5 404,227.1 405,227.3 406,227.4 407,225.4 408,224.4 409,221.8 410,213.8 411,204.3 412,193.0 413,184.6 414,181.7 415,178.5 416,174.9 417,172.2 418,167.5 419,165.5 420,160.9 421,159.4 422,158.1 423,160.0 424,158.2 425,158.4 426,156.0 427,157.3 428,157.9 429,156.8 430,156.5 431,156.0 432,155.4 433,154.5 434,153.9 435,155.7 436,154.6 437,154.2 438,153.9 439,151.6 440,150.9 441,151.3 442,154.6 443,152.6 444,152.5 445,149.6 446,150.7 447,151.3 448,150.6 449,152.0 450,150.4 451,150.4 452,151.8 453,152.2 454,150.2 455,148.6 456,148.7 457,149.7 458,146.7 459,145.9 460,145.9 461,147.9 462,146.8 463,144.5 464,144.1 465,144.6 466,143.6 467,142.5 468,142.6 469,143.1 470,142.7 471,143.2 472,142.8 473,142.4 474,143.8 475,143.4 476,140.8 477,142.9 478,142.3 479,141.8 480,143.8 481,143.7 482,143.7 483,143.0 484,145.5 485,144.2 486,143.1 487,145.5 488,143.2 489,145.2 490,143.3 491,142.5 492,142.1 493,141.6 494,141.8 495,143.2 496,142.4 497,140.5 498,141.9 499,140.4 500,142.2 501,141.3 502,141.5 503,142.5 504,139.4 505,143.2 506,144.1 507,142.2 508,141.0 509,139.9 510,140.8 511,139.7 512,139.0 513,138.5 514,139.8 515,138.9 516,136.6 517,136.8 518,135.8 519,136.9 520,135.3 521,135.5 522,135.6 523,134.4 524,133.0 525,133.0 526,132.3 527,134.1 528,133.3 529,130.7 530,131.1 531,133.6 532,132.5 533,131.4 534,132.0 535,131.7 536,131.7 537,131.0 538,132.6 539,132.0 540,131.4 541,132.9 542,133.9 543,135.3 544,136.2 545,137.0 546,137.4 547,139.3 548,140.3 549,142.9 550,142.2 551,143.7 552,144.8 553,145.8 554,148.2 555,149.7 556,151.1 557,153.3 558,153.2 559,155.1 560,156.4 561,157.7 562,157.8 563,159.3 564,162.2 565,162.5 566,165.6 567,167.4 568,167.2 569,168.9 570,170.4 571,173.0 572,174.8 573,175.0 574,176.0 575,177.1 576,176.3 577,177.8 578,179.4 579,179.6 580,181.6 581,180.6 582,181.6 583,182.8 584,183.8 585,183.2 586,184.3 587,185.6 588,186.3 589,187.1 590,186.5 591,186.4 592,185.7 593,187.4 594,188.6 595,188.5 596,189.8 597,191.2 598,190.8 599,192.0 600,192.2" fill="none" stroke="#3ec43e" stroke-width="1.0" stroke-linejoin="round"/>
<polyline points="294,303.1 295,303.5 296,303.6 297,304.0 298,304.4 299,304.8 300,305.5 301,305.3 302,305.5 303,305.9 304,306.4 305,306.5 306,306.9 307,307.4 308,307.6 309,307.6 310,308.4 311,308.4 312,308.8 313,309.1 314,309.6 315,309.5 316,309.7 317,310.3 318,310.7 319,310.7 320,311.0 321,311.2 322,310.7 323,311.2 324,311.1 325,310.8 326,310.7 327,310.6 328,310.8 329,310.5 330,310.7 331,310.7 332,310.0 333,310.3 334,310.1 335,309.9 336,309.9 337,309.6 338,309.1 339,309.1 340,308.9 341,308.5 342,308.0 343,308.3 344,307.5 345,306.7 346,305.6 347,304.4 348,303.9 349,303.2 350,302.0 351,300.8 352,299.7 353,298.5 354,296.2 355,293.7 356,290.9 357,288.3 358,284.1 359,277.6 360,269.9 361,262.8 362,256.1 363,250.0 364,243.3 365,237.2 366,230.9 367,224.8 368,218.2 369,212.9 370,208.0 371,204.3 372,200.9 373,198.5 374,195.8 375,194.6 376,196.0 377,202.0 378,210.1 379,219.5 380,225.4 381,228.4 382,229.3 383,229.8 384,229.2 385,228.7 386,228.1 387,229.1 388,228.0 389,227.6 390,226.7 391,225.6 392,226.0 393,225.3 394,227.6 395,228.1 396,228.6 397,228.9 398,229.2 399,227.5 400,225.6 401,223.4 402,222.5 403,222.0 404,221.1 405,218.6 406,215.9 407,213.6 408,212.3 409,209.5 410,206.8 411,202.6 412,194.7 413,191.2 414,185.3 415,176.9 416,171.6 417,167.3 418,160.9 419,157.1 420,155.9 421,152.0 422,149.8 423,149.5 424,147.7 425,147.2 426,148.2 427,147.2 428,143.5 429,145.2 430,143.8 431,143.2 432,143.4 433,144.1 434,142.9 435,142.3 436,143.5 437,142.8 438,146.2 439,147.1 440,146.4 441,147.1 442,148.4 443,150.0 444,151.7 445,150.2 446,148.2 447,147.5 448,147.6 449,144.3 450,142.4 451,143.7 452,139.0 453,138.3 454,137.6 455,135.7 456,134.7 457,135.6 458,134.1 459,133.8 460,132.9 461,133.7 462,130.2 463,128.6 464,128.6 465,129.1 466,128.9 467,129.0 468,128.4 469,129.2 470,127.2 471,127.1 472,128.3 473,127.9 474,127.9 475,128.8 476,130.0 477,132.6 478,134.7 479,136.5 480,136.5 481,136.5 482,137.0 483,137.5 484,137.9 485,141.2 486,143.1 487,141.6 488,141.7 489,139.8 490,142.4 491,142.6 492,143.1 493,141.9 494,141.3 495,140.6 496,140.8 497,143.2 498,141.0 499,137.7 500,138.4 501,138.7 502,140.6 503,136.7 504,138.7 505,139.1 506,139.9 507,139.3 508,137.3 509,135.6 510,135.7 511,135.7 512,135.6 513,134.6 514,133.7 515,134.5 516,133.6 517,132.4 518,131.6 519,130.8 520,130.5 521,132.5 522,130.1 523,129.3 524,130.3 525,128.7 526,128.3 527,127.0 528,126.8 529,125.7 530,127.5 531,128.7 532,127.2 533,127.0 534,127.5 535,127.2 536,125.4 537,125.2 538,126.0 539,127.4 540,126.2 541,127.0 542,128.1 543,129.1 544,129.9 545,130.5 546,132.5 547,132.5 548,135.4 549,135.5 550,136.5 551,136.4 552,138.5 553,138.7 554,140.0 555,143.1 556,143.9 557,144.0 558,144.8 559,148.3 560,149.6 561,151.5 562,153.1 563,154.2 564,152.5 565,153.2 566,157.3 567,157.6 568,161.0 569,162.2 570,163.0 571,164.1 572,164.4 573,166.8 574,168.3 575,170.0 576,171.8 577,170.8 578,172.2 579,173.6 580,172.1 581,172.1 582,172.6 583,172.7 584,173.0 585,175.5 586,176.9 587,176.5 588,175.8 589,176.1 590,177.1 591,176.9 592,177.6 593,177.9 594,179.4 595,179.7 596,179.4 597,178.7 598,179.5 599,181.1 600,182.2" fill="none" stroke="#ece64a" stroke-width="1.0" stroke-linejoin="round"/>
<polyline points="294,296.5 295,297.0 296,297.4 297,297.2 298,297.4 299,297.9 300,298.1 301,298.6 302,299.2 303,299.6 304,300.1 305,300.1 306,301.2 307,301.6 308,301.9 309,302.5 310,302.7 311,303.0 312,303.2 313,303.8 314,304.0 315,304.5 316,305.1 317,305.3 318,305.3 319,305.8 320,306.1 321,306.0 322,306.0 323,305.9 324,305.8 325,306.1 326,306.0 327,305.8 328,305.7 329,305.6 330,305.8 331,305.3 332,304.9 333,305.2 334,305.3 335,305.1 336,304.7 337,304.3 338,304.8 339,304.1 340,304.0 341,303.6 342,303.1 343,302.5 344,301.7 345,301.0 346,300.4 347,299.8 348,299.5 349,298.1 350,297.6 351,296.4 352,295.2 353,293.6 354,292.0 355,289.5 356,287.0 357,284.0 358,279.8 359,273.7 360,266.0 361,258.9 362,252.0 363,245.4 364,239.4 365,233.4 366,227.1 367,221.0 368,214.8 369,208.7 370,204.0 371,200.6 372,197.1 373,193.5 374,190.7 375,190.8 376,193.6 377,199.8 378,205.9 379,215.6 380,223.2 381,225.5 382,225.9 383,226.1 384,224.5 385,225.8 386,224.4 387,222.4 388,222.2 389,221.8 390,222.5 391,222.5 392,224.2 393,224.0 394,223.5 395,224.1 396,223.7 397,225.3 398,224.7 399,223.6 400,221.7 401,219.6 402,218.2 403,218.2 404,216.9 405,213.4 406,212.8 407,211.3 408,208.6 409,206.2 410,202.8 411,196.3 412,190.1 413,185.0 414,177.7 415,173.0 416,172.0 417,168.3 418,164.4 419,165.4 420,162.7 421,162.3 422,160.0 423,162.2 424,159.5 425,161.8 426,163.8 427,161.9 428,160.4 429,158.8 430,159.5 431,160.3 432,156.4 433,157.6 434,160.3 435,158.8 436,160.2 437,159.3 438,157.2 439,157.9 440,159.5 441,157.4 442,157.3 443,157.6 444,156.1 445,156.1 446,156.7 447,155.8 448,155.7 449,156.6 450,157.5 451,154.9 452,154.3 453,158.0 454,155.3 455,151.1 456,151.7 457,150.8 458,152.8 459,150.7 460,151.3 461,153.4 462,150.6 463,150.7 464,151.1 465,151.6 466,151.6 467,151.3 468,148.4 469,148.5 470,145.9 471,147.2 472,147.4 473,149.1 474,147.0 475,145.4 476,144.6 477,143.6 478,143.6 479,143.2 480,143.6 481,142.9 482,143.6 483,144.4 484,141.7 485,141.3 486,141.4 487,145.3 488,145.2 489,143.2 490,141.9 491,140.6 492,142.4 493,141.4 494,141.1 495,139.7 496,135.5 497,136.3 498,137.8 499,138.7 500,136.8 501,137.5 502,136.5 503,135.4 504,136.7 505,134.9 506,134.6 507,136.7 508,136.4 509,135.0 510,134.9 511,133.1 512,132.8 513,132.9 514,132.5 515,131.9 516,130.1 517,131.0 518,129.2 519,129.7 520,131.5 521,129.8 522,127.9 523,127.7 524,126.5 525,125.9 526,125.4 527,125.4 528,125.6 529,126.2 530,127.2 531,125.8 532,125.0 533,124.0 534,125.6 535,125.1 536,126.0 537,125.1 538,126.0 539,124.7 540,124.9 541,125.6 542,126.3 543,127.4 544,127.7 545,126.7 546,128.1 547,129.8 548,132.0 549,132.7 550,134.6 551,135.9 552,136.4 553,136.3 554,140.5 555,141.1 556,141.5 557,143.4 558,144.3 559,145.9 560,147.1 561,150.5 562,150.4 563,151.8 564,152.4 565,154.9 566,156.7 567,156.8 568,157.2 569,159.1 570,160.4 571,162.6 572,163.8 573,165.3 574,166.2 575,167.1 576,168.2 577,169.8 578,169.6 579,170.2 580,169.9 581,170.1 582,169.9 583,171.0 584,170.8 585,169.9 586,171.1 587,171.3 588,172.5 589,173.1 590,174.7 591,174.1 592,173.7 593,173.9 594,174.2 595,174.5 596,175.4 597,175.0 598,175.9 599,176.6 600,175.7" fill="none" stroke="#e27a4a" stroke-width="1.0" stroke-linejoin="round"/>
<polyline points="294,293.2 295,293.4 296,293.7 297,294.0 298,294.4 299,294.4 300,295.2 301,295.4 302,295.7 303,295.9 304,296.2 305,296.9 306,297.6 307,298.0 308,298.5 309,298.7 310,299.0 311,299.3 312,299.4 313,299.9 314,300.3 315,300.8 316,300.9 317,301.2 318,301.6 319,301.9 320,301.9 321,301.9 322,302.1 323,302.2 324,301.8 325,301.7 326,302.4 327,301.8 328,301.6 329,301.1 330,301.3 331,301.3 332,301.2 333,301.1 334,301.0 335,301.0 336,300.9 337,300.3 338,300.1 339,300.3 340,300.0 341,299.5 342,299.0 343,298.7 344,298.4 345,298.1 346,297.6 347,296.8 348,295.9 349,295.6 350,294.6 351,293.4 352,292.3 353,291.2 354,289.3 355,287.3 356,285.1 357,282.3 358,277.8 359,271.7 360,263.6 361,256.7 362,250.0 363,243.4 364,236.5 365,230.4 366,224.3 367,217.6 368,211.1 369,205.3 370,200.7 371,197.8 372,194.5 373,190.4 374,190.0 375,190.4 376,193.3 377,198.2 378,205.6 379,213.1 380,218.4 381,222.4 382,223.3 383,223.8 384,224.8 385,221.9 386,221.8 387,222.4 388,221.4 389,220.5 390,219.2 391,218.8 392,219.1 393,220.0 394,221.6 395,222.7 396,223.2 397,223.8 398,221.7 399,220.9 400,218.4 401,218.1 402,215.9 403,215.2 404,213.7 405,211.3 406,208.5 407,205.4 408,200.5 409,192.6 410,187.1 411,179.4 412,174.4 413,170.8 414,169.4 415,166.0 416,168.7 417,169.4 418,171.1 419,172.9 420,172.4 421,170.4 422,171.4 423,171.4 424,172.5 425,174.4 426,175.1 427,171.6 428,171.5 429,173.2 430,173.9 431,173.5 432,172.5 433,173.5 434,173.3 435,172.2 436,173.8 437,171.1 438,172.2 439,172.5 440,173.1 441,173.4 442,171.6 443,171.7 444,172.6 445,173.2 446,170.5 447,171.2 448,170.2 449,168.6 450,169.4 451,167.6 452,168.1 453,168.5 454,170.0 455,166.5 456,167.3 457,166.6 458,165.6 459,165.1 460,166.5 461,164.2 462,164.8 463,163.6 464,164.0 465,163.4 466,160.1 467,160.0 468,160.7 469,160.3 470,158.4 471,159.9 472,160.2 473,158.5 474,157.6 475,155.8 476,158.0 477,159.0 478,159.2 479,155.9 480,156.3 481,153.2 482,153.3 483,152.2 484,149.7 485,150.0 486,150.5 487,149.9 488,148.8 489,148.8 490,149.3 491,148.3 492,143.6 493,144.2 494,143.8 495,140.5 496,142.6 497,142.7 498,138.2 499,135.7 500,137.0 501,139.0 502,139.6 503,135.7 504,133.4 505,131.6 506,131.4 507,129.3 508,128.7 509,128.3 510,126.1 511,123.9 512,123.7 513,123.1 514,121.4 515,117.9 516,117.8 517,116.6 518,114.4 519,112.3 520,111.1 521,110.2 522,111.1 523,108.6 524,106.6 525,105.9 526,105.4 527,103.3 528,102.8 529,101.6 530,100.1 531,100.7 532,99.2 533,99.1 534,98.5 535,96.4 536,95.4 537,95.8 538,98.0 539,96.8 540,96.7 541,98.3 542,97.6 543,99.6 544,98.6 545,100.1 546,101.3 547,103.0 548,105.0 549,106.2 550,106.1 551,107.7 552,110.4 553,113.0 554,114.0 555,115.3 556,116.3 557,119.7 558,121.3 559,122.0 560,124.4 561,127.4 562,127.7 563,129.3 564,132.0 565,132.2 566,135.0 567,137.2 568,138.7 569,140.8 570,142.7 571,144.8 572,146.4 573,148.8 574,150.4 575,151.1 576,151.7 577,151.6 578,155.0 579,155.9 580,156.9 581,158.3 582,158.0 583,158.7 584,160.1 585,158.3 586,162.0 587,162.6 588,162.0 589,163.2 590,165.2 591,164.9 592,166.5 593,167.0 594,167.3 595,167.9 596,168.4 597,169.0 598,170.3 599,171.2 600,169.9" fill="none" stroke="#d9463a" stroke-width="1.0" stroke-linejoin="round"/>
<polyline points="294,291.0 295,290.9 296,291.5 297,292.1 298,291.8 299,292.3 300,292.5 301,293.1 302,293.0 303,293.2 304,293.9 305,294.2 306,294.0 307,293.8 308,294.2 309,294.9 310,295.1 311,295.0 312,295.7 313,295.8 314,295.8 315,296.0 316,296.2 317,296.3 318,296.6 319,296.6 320,296.6 321,296.8 322,296.6 323,296.2 324,296.4 325,296.2 326,296.4 327,296.3 328,295.9 329,296.3 330,296.4 331,296.0 332,295.6 333,295.6 334,295.6 335,295.6 336,295.4 337,295.0 338,294.8 339,295.0 340,295.2 341,294.4 342,294.0 343,293.7 344,293.5 345,292.6 346,291.6 347,291.3 348,290.8 349,290.1 350,289.3 351,288.8 352,288.6 353,287.3 354,285.7 355,283.7 356,281.9 357,279.6 358,276.0 359,269.3 360,261.4 361,253.8 362,246.1 363,238.8 364,232.4 365,225.8 366,219.8 367,213.8 368,207.8 369,202.4 370,197.5 371,194.6 372,190.9 373,188.4 374,186.6 375,188.6 376,191.4 377,196.5 378,202.2 379,211.3 380,216.1 381,217.8 382,220.0 383,220.9 384,221.1 385,221.9 386,220.2 387,218.4 388,217.0 389,217.9 390,216.7 391,216.0 392,216.0 393,218.1 394,218.4 395,217.7 396,218.3 397,219.4 398,219.7 399,217.5 400,213.5 401,212.3 402,212.4 403,212.8 404,211.8 405,210.1 406,207.3 407,204.7 408,197.1 409,188.5 410,180.9 411,172.1 412,168.6 413,168.3 414,165.9 415,166.4 416,165.2 417,163.3 418,165.1 419,167.6 420,169.9 421,170.0 422,169.4 423,170.4 424,171.1 425,172.8 426,171.6 427,172.2 428,173.2 429,169.5 430,172.2 431,171.6 432,170.4 433,169.7 434,172.3 435,171.7 436,170.4 437,169.7 438,172.4 439,173.0 440,170.1 441,170.6 442,171.3 443,171.7 444,170.5 445,172.7 446,170.3 447,169.1 448,168.1 449,167.8 450,169.7 451,168.8 452,167.3 453,167.0 454,169.3 455,169.6 456,168.6 457,167.4 458,166.4 459,168.0 460,168.0 461,166.2 462,165.2 463,166.4 464,163.2 465,163.8 466,165.0 467,162.0 468,159.9 469,156.8 470,157.5 471,158.6 472,160.0 473,156.7 474,159.4 475,156.7 476,155.4 477,155.3 478,153.0 479,154.6 480,155.0 481,150.2 482,150.0 483,149.4 484,150.6 485,150.6 486,151.5 487,147.8 488,149.0 489,146.7 490,146.6 491,145.3 492,144.8 493,142.3 494,143.1 495,141.4 496,137.3 497,137.1 498,136.5 499,133.5 500,132.0 501,131.5 502,131.6 503,130.4 504,127.6 505,127.2 506,124.5 507,125.9 508,123.2 509,122.7 510,119.9 511,118.3 512,117.4 513,115.6 514,112.5 515,111.5 516,110.3 517,108.5 518,106.8 519,105.1 520,103.7 521,102.9 522,100.9 523,98.9 524,97.2 525,97.0 526,94.9 527,94.6 528,91.9 529,90.0 530,89.3 531,88.3 532,87.4 533,86.9 534,86.6 535,86.9 536,85.0 537,84.4 538,84.9 539,86.9 540,86.7 541,87.6 542,89.3 543,89.1 544,89.2 545,92.1 546,94.8 547,97.5 548,98.7 549,99.2 550,100.9 551,102.8 552,104.7 553,108.0 554,108.9 555,110.5 556,111.7 557,113.5 558,116.7 559,119.5 560,120.4 561,122.3 562,123.6 563,125.5 564,127.7 565,131.1 566,134.0 567,134.7 568,135.2 569,136.2 570,138.7 571,138.6 572,139.8 573,143.0 574,142.9 575,145.6 576,146.4 577,147.7 578,147.1 579,149.6 580,150.9 581,151.7 582,151.1 583,152.3 584,152.8 585,155.9 586,155.9 587,156.6 588,158.2 589,158.1 590,159.1 591,159.8 592,160.9 593,159.8 594,162.8 595,163.0 596,162.9 597,165.4 598,166.8 599,165.1 600,165.9" fill="none" stroke="#e2413f" stroke-width="1.0" stroke-linejoin="round"/>
<line x1="374.4" y1="174.2" x2="379" y2="245.5" stroke="#000" stroke-width="1.8" stroke-dasharray="3.6,2.2"/>
<polygon points="374.2,168.3 371.5,174.5 377.1,174.5" fill="#000"/>
<line x1="537.1" y1="72.2" x2="537.1" y2="241" stroke="#000" stroke-width="1.8" stroke-dasharray="3.85,2.1"/>
<text x="344.6" y="185.8" font-family="Liberation Serif, serif" font-size="21" font-weight="bold" fill="#000" text-anchor="start" textLength="12.6" lengthAdjust="spacingAndGlyphs" >π</text>
<text x="358.5" y="185" font-family="Liberation Serif, serif" font-size="16" font-weight="bold" fill="#000" text-anchor="start" textLength="8.5" lengthAdjust="spacingAndGlyphs" >*</text>
<text x="497.8" y="74.5" font-family="Liberation Serif, serif" font-size="20" font-weight="bold" fill="#000" text-anchor="start" textLength="14" lengthAdjust="spacingAndGlyphs" >σ</text>
<text x="512.6" y="79.5" font-family="Liberation Serif, serif" font-size="13" font-weight="bold" fill="#000" text-anchor="start" textLength="10.8" lengthAdjust="spacingAndGlyphs" >G</text>
<text x="526.5" y="72" font-family="Liberation Serif, serif" font-size="16" font-weight="bold" fill="#000" text-anchor="start" textLength="8.6" lengthAdjust="spacingAndGlyphs" >*</text>
<rect x="602.4" y="94" width="80.4" height="191.2" fill="#fff" stroke="#444" stroke-width="1.1"/>
<text x="609.2" y="114" font-family="Liberation Sans, sans-serif" font-size="16" font-weight="bold" fill="#000" text-anchor="start" textLength="12" lengthAdjust="spacingAndGlyphs" >V</text>
<text x="621.3" y="117.8" font-family="Liberation Sans, sans-serif" font-size="11" font-weight="bold" fill="#000" text-anchor="start" textLength="6.6" lengthAdjust="spacingAndGlyphs" >g</text>
<line x1="609.3" y1="139.4" x2="624.2" y2="139.4" stroke="#e0443c" stroke-width="2.2"/>
<text x="670.8" y="143.5" font-family="Liberation Sans, sans-serif" font-size="16" font-weight="bold" fill="#000" text-anchor="end" textLength="37.3" lengthAdjust="spacingAndGlyphs" >-10 V</text>
<line x1="609.3" y1="158.5" x2="624.2" y2="158.5" stroke="#eba040" stroke-width="2.2"/>
<text x="670.8" y="162.6" font-family="Liberation Sans, sans-serif" font-size="16" font-weight="bold" fill="#000" text-anchor="end" textLength="28.2" lengthAdjust="spacingAndGlyphs" >-9 V</text>
<line x1="609.3" y1="177.6" x2="624.2" y2="177.6" stroke="#f3ec45" stroke-width="2.2"/>
<text x="670.8" y="181.70000000000002" font-family="Liberation Sans, sans-serif" font-size="16" font-weight="bold" fill="#000" text-anchor="end" textLength="28.2" lengthAdjust="spacingAndGlyphs" >-7 V</text>
<line x1="609.3" y1="196.7" x2="624.2" y2="196.7" stroke="#33cc44" stroke-width="2.2"/>
<text x="670.8" y="200.8" font-family="Liberation Sans, sans-serif" font-size="16" font-weight="bold" fill="#000" text-anchor="end" textLength="28.2" lengthAdjust="spacingAndGlyphs" >-4 V</text>
<line x1="609.3" y1="215.8" x2="624.2" y2="215.8" stroke="#2b8a2b" stroke-width="2.2"/>
<text x="670.8" y="219.9" font-family="Liberation Sans, sans-serif" font-size="16" font-weight="bold" fill="#000" text-anchor="end" textLength="28.2" lengthAdjust="spacingAndGlyphs" >-3 V</text>
<line x1="609.3" y1="234.9" x2="624.2" y2="234.9" stroke="#40c8f0" stroke-width="2.2"/>
<text x="670.8" y="239.0" font-family="Liberation Sans, sans-serif" font-size="16" font-weight="bold" fill="#000" text-anchor="end" textLength="28.2" lengthAdjust="spacingAndGlyphs" >-2 V</text>
<line x1="609.3" y1="254.0" x2="624.2" y2="254.0" stroke="#2a2a90" stroke-width="2.2"/>
<text x="670.8" y="258.1" font-family="Liberation Sans, sans-serif" font-size="16" font-weight="bold" fill="#000" text-anchor="end" textLength="28.2" lengthAdjust="spacingAndGlyphs" ><tspan fill="#1c1c8c">-</tspan>1 V</text>
<line x1="609.3" y1="273.1" x2="624.2" y2="273.1" stroke="#111" stroke-width="2.2"/>
<text x="670.8" y="277.20000000000005" font-family="Liberation Sans, sans-serif" font-size="16" font-weight="bold" fill="#000" text-anchor="end" textLength="23.3" lengthAdjust="spacingAndGlyphs" >0 V</text>
</svg>
</body></html>
